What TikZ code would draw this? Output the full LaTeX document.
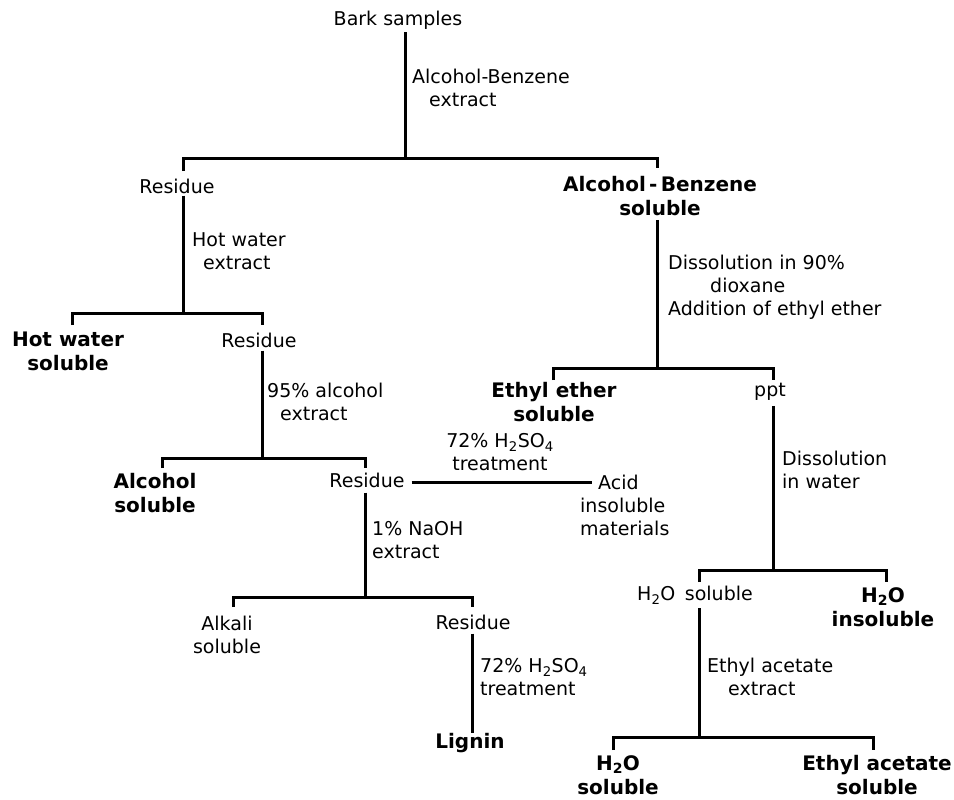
\documentclass[tikz,border=0pt]{standalone}
\usepackage{fontspec}
\setmainfont{DejaVu Sans}
\begin{document}
\tikzset{
  reg/.style={inner sep=0pt, align=center, font=\fontsize{19}{23}\selectfont},
  regl/.style={reg, align=left, anchor=west},
  bld/.style={inner sep=0pt, align=center, font=\fontsize{20}{24}\selectfont\bfseries},
  conn/.style={line width=3pt},
}
\begin{tikzpicture}[x=1pt,y=-1pt]
\useasboundingbox (0,0) rectangle (954,800);
% level 0
\node[reg] (bark) at (398,20) {Bark samples};
\coordinate (j0) at (405,158);
\draw[conn, shorten <=3pt] (j0 |- bark.south) -- (j0);
\node[regl] (l0) at (412,88) {Alcohol-Benzene\\\hspace*{17pt}extract};
\coordinate (d0l) at (183,171);
\coordinate (d0r) at (657,168);
\draw[conn] (d0l) -- (d0l |- j0) -- (d0r |- j0) -- (d0r);
% level 1
\node[reg] (res1) at (177,186) {Residue};
\node[bld] (abs) at (660,196) {Alcohol\,-\,Benzene\\soluble};
\coordinate (j1) at (183,313);
\draw[conn, shorten <=2pt] (j1 |- res1.south) -- (j1);
\node[regl] (l1) at (192,251) {Hot water\\\hspace*{11pt}extract};
\coordinate (d1l) at (72,325);
\coordinate (d1r) at (262,325);
\draw[conn] (d1l) -- (d1l |- j1) -- (d1r |- j1) -- (d1r);
\node[bld] (hws) at (68,351) {Hot water\\soluble};
\node[reg] (res2) at (259,340) {Residue};
\coordinate (j2) at (262,458);
\draw[conn, shorten <=3pt] (j2 |- res2.south) -- (j2);
\node[regl] (l2) at (267,402) {95\% alcohol\\\hspace*{13pt}extract};
\coordinate (d2l) at (162,468);
\coordinate (d2r) at (365,468);
\draw[conn] (d2l) -- (d2l |- j2) -- (d2r |- j2) -- (d2r);
\node[bld] (als) at (155,493) {Alcohol\\soluble};
\node[reg] (res3) at (367,480) {Residue};
\node[regl] (acid) at (580,505) {\hspace*{18pt}Acid\\insoluble\\materials};
\draw[conn, shorten <=7pt] ([yshift=-2pt]res3.east) -- ([xshift=12pt,yshift=-2pt]res3.east -| acid.west);
\node[reg] (l3) at (500,452) {72\% H\textsubscript{2}SO\textsubscript{4}\\treatment};
\coordinate (j3) at (365,597);
\draw[conn, shorten <=5pt] (j3 |- res3.south) -- (j3);
\node[regl] (l4) at (372,540) {1\% NaOH\\extract};
\coordinate (d3l) at (233,607);
\coordinate (d3r) at (472,607);
\draw[conn] (d3l) -- (d3l |- j3) -- (d3r |- j3) -- (d3r);
\node[reg] (alk) at (227,635) {Alkali\\soluble};
\node[reg] (res4) at (473,622) {Residue};
\node[bld] (lig) at (470,743) {Lignin};
\draw[conn, shorten <=4pt] (res4.south -| d3r) -- (lig.north -| d3r);
\node[regl] (l5) at (480,677) {72\% H\textsubscript{2}SO\textsubscript{4}\\treatment};
% right branch
\coordinate (j4) at (657,368);
\draw[conn, shorten <=4pt] (j4 |- abs.south) -- (j4);
\node[regl] (l6) at (668,287) {Dissolution in 90\%\\\hspace*{42pt}dioxane\\Addition of ethyl ether};
\coordinate (d4l) at (553,380);
\coordinate (d4r) at (773,380);
\draw[conn] (d4l) -- (d4l |- j4) -- (d4r |- j4) -- (d4r);
\node[bld] (ees) at (554,402) {Ethyl ether\\soluble};
\node[reg] (ppt) at (770,392) {ppt};
\coordinate (j5) at (773,570);
\draw[conn, shorten <=5pt] (j5 |- ppt.south) -- (j5);
\node[regl] (l7) at (782,470) {Dissolution\\in water};
\coordinate (d5l) at (699,582);
\coordinate (d5r) at (886,582);
\draw[conn] (d5l) -- (d5l |- j5) -- (d5r |- j5) -- (d5r);
\node[reg] (h2os) at (695,595) {H\textsubscript{2}O\hspace{0.5em}soluble};
\node[bld] (h2oi) at (883,607) {H\textsubscript{2}O\\insoluble};
\coordinate (j6) at (699,737);
\draw[conn, shorten <=4pt] (j6 |- h2os.south) -- (j6);
\node[regl] (l8) at (707,677) {Ethyl acetate\\\hspace*{21pt}extract};
\coordinate (d6l) at (613,750);
\coordinate (d6r) at (873,750);
\draw[conn] (d6l) -- (d6l |- j6) -- (d6r |- j6) -- (d6r);
\node[bld] (h2os2) at (618,775) {H\textsubscript{2}O\\soluble};
\node[bld] (eas) at (877,775) {Ethyl acetate\\soluble};
\end{tikzpicture}
\end{document}
